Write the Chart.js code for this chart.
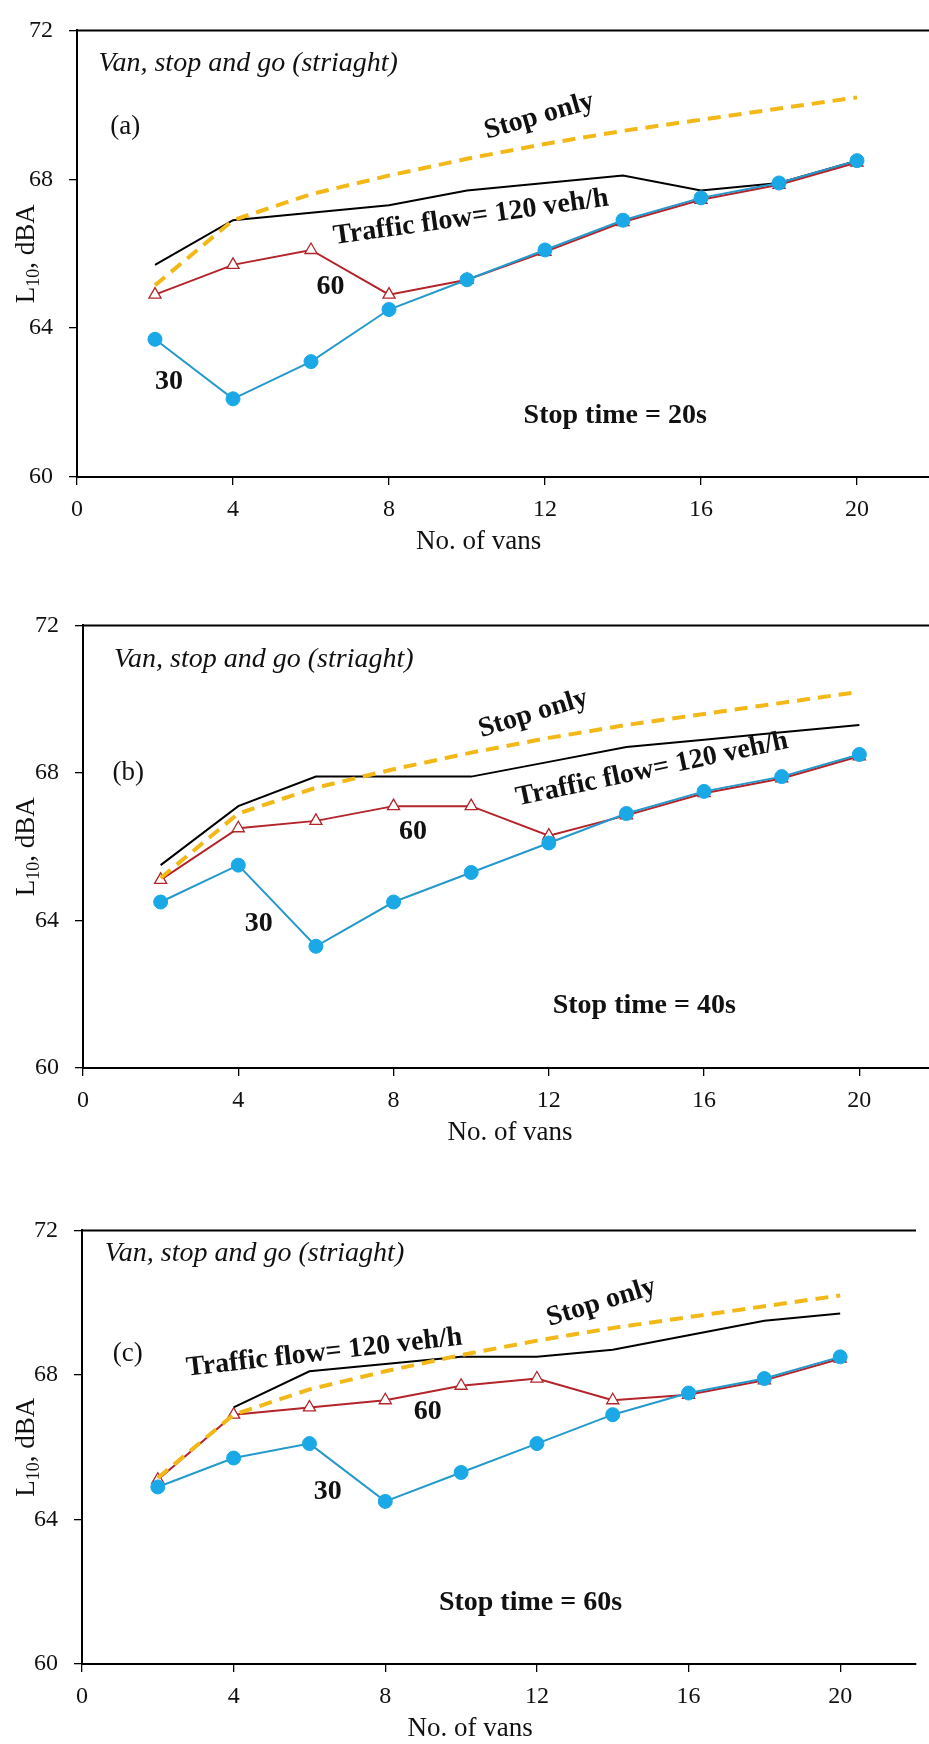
<!DOCTYPE html>
<html>
<head>
<meta charset="utf-8">
<title>Van, stop and go (straight) - L10 vs number of vans</title>
<script src="https://cdn.jsdelivr.net/npm/chart.js@4.4.1/dist/chart.umd.min.js"></script>
<style>
    html, body { margin: 0; padding: 0; background: #fff; }
    body { width: 929px; height: 1744px; overflow: hidden; position: relative; }
    canvas { position: absolute; left: 0; }
</style>
</head>
<body>
<canvas id="chartA" width="960" height="580" style="top:0px"></canvas>
<canvas id="chartB" width="960" height="560" style="top:595px"></canvas>
<canvas id="chartC" width="960" height="544" style="top:1200px"></canvas>
<script>
// x values: number of vans
const vans = [2, 4, 6, 8, 10, 12, 14, 16, 18, 20];
const xTicks = [0, 4, 8, 12, 16, 20];
const yTicks = [60, 64, 68, 72];

// "Stop only" curve (same in all panels)
const stopOnly = [65.15, 66.9, 67.6, 68.1, 68.55, 68.95, 69.3, 69.6, 69.9, 70.2];

// (a) stop time = 20 s
const flow120A = [65.7, 66.9, 67.1, 67.3, 67.7, 67.9, 68.1, 67.7, 67.9, 68.5];
const flow60A = [64.9, 65.7, 66.1, 64.9, 65.3, 66.05, 66.85, 67.45, 67.85, 68.45];
const flow30A = [63.7, 62.1, 63.1, 64.5, 65.3, 66.1, 66.9, 67.5, 67.9, 68.5];

// (b) stop time = 40 s
const flow120B = [65.5, 67.1, 67.9, 67.9, 67.9, 68.3, 68.7, 68.9, 69.1, 69.3];
const flow60B = [65.1, 66.5, 66.7, 67.1, 67.1, 66.3, 66.85, 67.45, 67.85, 68.45];
const flow30B = [64.5, 65.5, 63.3, 64.5, 65.3, 66.1, 66.9, 67.5, 67.9, 68.5];

// (c) stop time = 60 s
const flow120C = [null, 67.1, 68.1, 68.3, 68.5, 68.5, 68.7, 69.1, 69.5, 69.7];
const flow60C = [65.1, 66.9, 67.1, 67.3, 67.7, 67.9, 67.3, 67.45, 67.85, 68.45];
const flow30C = [64.9, 65.7, 66.1, 64.5, 65.3, 66.1, 66.9, 67.5, 67.9, 68.5];

const subtitle = 'Van, stop and go (striaght)';
const xTitle = 'No. of vans';

const SERIF = '"Liberation Serif", "Times New Roman", serif';

/**
 * Draws the frame top line, axis titles and the text notes of a panel.
 */
const panelText = {
    id: 'panelText',
    afterDatasetsDraw(chart, args, opts) {
        const { ctx, chartArea, scales: { x, y } } = chart;
        ctx.save();

        // top edge of the plot frame
        ctx.strokeStyle = '#000';
        ctx.lineWidth = 2;
        ctx.beginPath();
        ctx.moveTo(chartArea.left, chartArea.top);
        ctx.lineTo(chartArea.right, chartArea.top);
        ctx.stroke();

        ctx.fillStyle = '#111';
        opts.notes.forEach(n => {
            ctx.save();
            ctx.translate(x.getPixelForValue(n.x), y.getPixelForValue(n.y));
            ctx.rotate((n.rot || 0) * Math.PI / 180);
            ctx.font = n.font;
            ctx.textAlign = n.align || 'center';
            ctx.textBaseline = 'middle';
            ctx.fillText(n.text, 0, 0);
            ctx.restore();
        });

        // x axis title
        ctx.font = '27px ' + SERIF;
        ctx.textAlign = 'center';
        ctx.textBaseline = 'middle';
        ctx.fillText(xTitle, x.getPixelForValue(opts.xTitleAt), chartArea.bottom + 65);

        // y axis title with subscript: L10, dBA
        const big = '27px ' + SERIF;
        const small = '18px ' + SERIF;
        ctx.font = big;
        const wL = ctx.measureText('L').width;
        const wRest = ctx.measureText(', dBA').width;
        ctx.font = small;
        const wSub = ctx.measureText('10').width;
        const total = wL + wSub + wRest;
        ctx.translate(25, (chartArea.top + chartArea.bottom) / 2);
        ctx.rotate(-Math.PI / 2);
        ctx.textAlign = 'left';
        ctx.textBaseline = 'alphabetic';
        let px = -total / 2;
        ctx.font = big;
        ctx.fillText('L', px, 9);
        px += wL;
        ctx.font = small;
        ctx.fillText('10', px, 14);
        px += wSub;
        ctx.font = big;
        ctx.fillText(', dBA', px, 9);

        ctx.restore();
    }
};

/**
 * Builds one panel.
 */
function makePanel(id, box, flow120, flow60, flow30, notes, xTitleAt) {
    const canvas = document.getElementById(id);
    const ctx = canvas.getContext('2d');
    const H = canvas.height;
    const W = canvas.width;

    return new Chart(ctx, {
        type: 'line',
        data: {
            labels: vans,
            datasets: [
                {
                    label: '30 veh/h',
                    data: flow30,
                    borderColor: '#2599CC',
                    borderWidth: 2,
                    pointStyle: 'circle',
                    pointRadius: 7,
                    pointBackgroundColor: '#1AA8E6',
                    pointBorderColor: '#1AA8E6',
                    pointBorderWidth: 1,
                    order: 1
                },
                {
                    label: 'Stop only',
                    data: stopOnly,
                    borderColor: '#F2B818',
                    borderWidth: 4,
                    borderDash: [13, 8],
                    pointRadius: 0,
                    order: 2
                },
                {
                    label: '60 veh/h',
                    data: flow60,
                    borderColor: '#B3242B',
                    borderWidth: 2,
                    pointStyle: 'triangle',
                    pointRadius: 7,
                    pointBackgroundColor: '#fff',
                    pointBorderColor: '#B3242B',
                    pointBorderWidth: 1.3,
                    order: 3
                },
                {
                    label: '120 veh/h',
                    data: flow120,
                    borderColor: '#000',
                    borderWidth: 2,
                    pointRadius: 0,
                    spanGaps: false,
                    order: 4
                }
            ]
        },
        options: {
            responsive: false,
            animation: false,
            events: [],
            layout: {
                padding: { top: box.top, left: 0, right: W - box.right, bottom: 0 }
            },
            plugins: {
                legend: { display: false },
                tooltip: { enabled: false },
                panelText: { notes: notes, xTitleAt: xTitleAt }
            },
            scales: {
                x: {
                    type: 'linear',
                    min: 0,
                    max: 22,
                    afterBuildTicks: s => { s.ticks = xTicks.map(v => ({ value: v })); },
                    afterFit: s => { s.height = H - box.bottom; },
                    grid: { drawOnChartArea: false, drawTicks: true, tickLength: 8, color: '#000', lineWidth: 1.3 },
                    border: { display: true, color: '#000', width: 2 },
                    ticks: { color: '#111', padding: 10, maxRotation: 0, font: { family: SERIF, size: 24 } }
                },
                y: {
                    min: 60,
                    max: 72,
                    afterBuildTicks: s => { s.ticks = yTicks.map(v => ({ value: v })); },
                    afterFit: s => { s.width = box.left; },
                    grid: { drawOnChartArea: false, drawTicks: true, tickLength: 8, color: '#000', lineWidth: 1.3 },
                    border: { display: true, color: '#000', width: 2 },
                    ticks: { color: '#111', padding: 16, font: { family: SERIF, size: 24 } }
                }
            }
        },
        plugins: [panelText]
    });
}

const italic = 'italic 28px ' + SERIF;
const plain = '27px ' + SERIF;
const bold = 'bold 28px ' + SERIF;

document.addEventListener('DOMContentLoaded', () => {
    makePanel('chartA', { top: 22, bottom: 477, left: 77, right: 935 },
        flow120A, flow60A, flow30A, [
            { text: subtitle, x: 0.55, y: 71.12, font: italic, align: 'left' },
            { text: '(a)', x: 0.85, y: 69.4, font: plain, align: 'left' },
            { text: 'Stop only', x: 11.85, y: 69.69, rot: -16, font: bold },
            { text: 'Traffic flow= 120 veh/h', x: 10.1, y: 66.97, rot: -8, font: bold },
            { text: '60', x: 6.5, y: 65.11, font: bold },
            { text: '30', x: 2.36, y: 62.57, font: bold },
            { text: 'Stop time = 20s', x: 13.8, y: 61.65, font: bold }
        ], 10.3);

    makePanel('chartB', { top: 22, bottom: 473, left: 83, right: 937 },
        flow120B, flow60B, flow30B, [
            { text: subtitle, x: 0.8, y: 71.06, font: italic, align: 'left' },
            { text: '(b)', x: 0.76, y: 68.0, font: plain, align: 'left' },
            { text: 'Stop only', x: 11.6, y: 69.6, rot: -17, font: bold },
            { text: 'Traffic flow= 120 veh/h', x: 14.66, y: 68.09, rot: -12, font: bold },
            { text: '60', x: 8.5, y: 66.4, font: bold },
            { text: '30', x: 4.53, y: 63.9, font: bold },
            { text: 'Stop time = 40s', x: 14.46, y: 61.7, font: bold }
        ], 11);

    makePanel('chartC', { top: 23, bottom: 464, left: 82, right: 916 },
        flow120C, flow60C, flow30C, [
            { text: subtitle, x: 0.6, y: 71.35, font: italic, align: 'left' },
            { text: '(c)', x: 0.81, y: 68.59, font: plain, align: 'left' },
            { text: 'Stop only', x: 13.7, y: 70.0, rot: -17, font: bold },
            { text: 'Traffic flow= 120 veh/h', x: 6.39, y: 68.61, rot: -6.5, font: bold },
            { text: '60', x: 9.12, y: 66.97, font: bold },
            { text: '30', x: 6.48, y: 64.76, font: bold },
            { text: 'Stop time = 60s', x: 11.83, y: 61.69, font: bold }
        ], 10.24);
});
</script>
</body>
</html>
